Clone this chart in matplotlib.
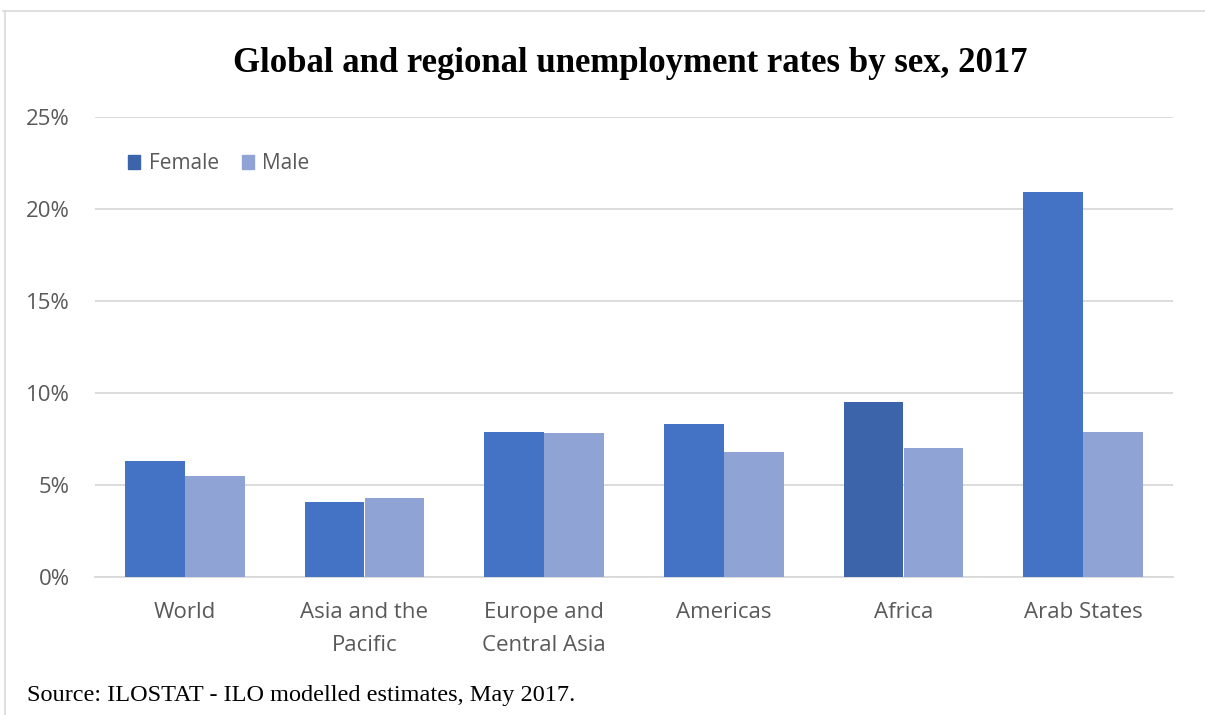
import matplotlib
matplotlib.use("Agg")
import matplotlib.pyplot as plt
from matplotlib.patches import Patch
from matplotlib.lines import Line2D
import numpy as np

categories = ["World", "Asia and the\nPacific", "Europe and\nCentral Asia", "Americas", "Africa", "Arab States"]
female = [6.3, 4.1, 7.9, 8.3, 9.5, 20.9]
male = [5.5, 4.3, 7.8, 6.8, 7.0, 7.9]
yticks = [0, 5, 10, 15, 20, 25]
ytick_labels = ["0%", "5%", "10%", "15%", "20%", "25%"]

c_female = "#4472C4"
c_female_dark = "#3C64AA"
c_male = "#8FA4D4"
txt = "#595959"
sans = ["Open Sans", "DejaVu Sans"]
serif = ["Liberation Serif", "DejaVu Serif"]

fig = plt.figure(figsize=(12.05, 7.15), dpi=100)
ax = fig.add_axes([95/1205, 1 - 577/715, (1173-95)/1205, (577-117)/715])

x = np.arange(len(categories))
w = 1/3
fcolors = [c_female_dark if c == "Africa" else c_female for c in categories]
ax.bar(x - w/2, female, width=w, color=fcolors, zorder=3)
ax.bar(x + w/2, male, width=w, color=c_male, zorder=3)

ax.set_xlim(-0.5, len(categories) - 0.5)
ax.set_ylim(0, 25)
ax.set_yticks(yticks)
ax.set_yticklabels(ytick_labels, fontsize=16, color=txt, family=sans)
ax.set_xticks(x)
ax.set_xticklabels(categories, fontsize=16, color=txt, family=sans, linespacing=1.75)
ax.tick_params(axis="both", length=0)
ax.tick_params(axis="y", pad=18)
ax.tick_params(axis="x", pad=18)
ax.yaxis.grid(True, color="#D9D9D9", linewidth=1.3, zorder=0)
for s in ["top", "right", "left"]:
    ax.spines[s].set_visible(False)
ax.spines["bottom"].set_color("#D9D9D9")
ax.spines["bottom"].set_linewidth(1.3)

handles = [Patch(color=c_female_dark, label="Female"), Patch(color=c_male, label="Male")]
leg = ax.legend(handles=handles, loc="upper left", bbox_to_anchor=(14/1078, 0.962),
                ncol=2, frameon=False, handlelength=0.6, handleheight=0.6,
                handletextpad=0.4, columnspacing=1.1, prop={"family": sans, "size": 15})
for t in leg.get_texts():
    t.set_color(txt)

fig.text(630/1205, 1 - 63/715, "Global and regional unemployment rates by sex, 2017",
         ha="center", va="center", fontsize=25, fontweight="bold", family=serif, color="black")
fig.text(27/1205, 1 - 695/715, "Source: ILOSTAT - ILO modelled estimates, May 2017.",
         ha="left", va="center", fontsize=17.5, family=serif, color="black")

# frame lines
fig.add_artist(Line2D([3/1205, 1.0], [1 - 11/715, 1 - 11/715], color="#D9D9D9", linewidth=1.2))
fig.add_artist(Line2D([5/1205, 5/1205], [0, 1 - 11/715], color="#D9D9D9", linewidth=1.2))

fig.savefig("out.png", dpi=100)
